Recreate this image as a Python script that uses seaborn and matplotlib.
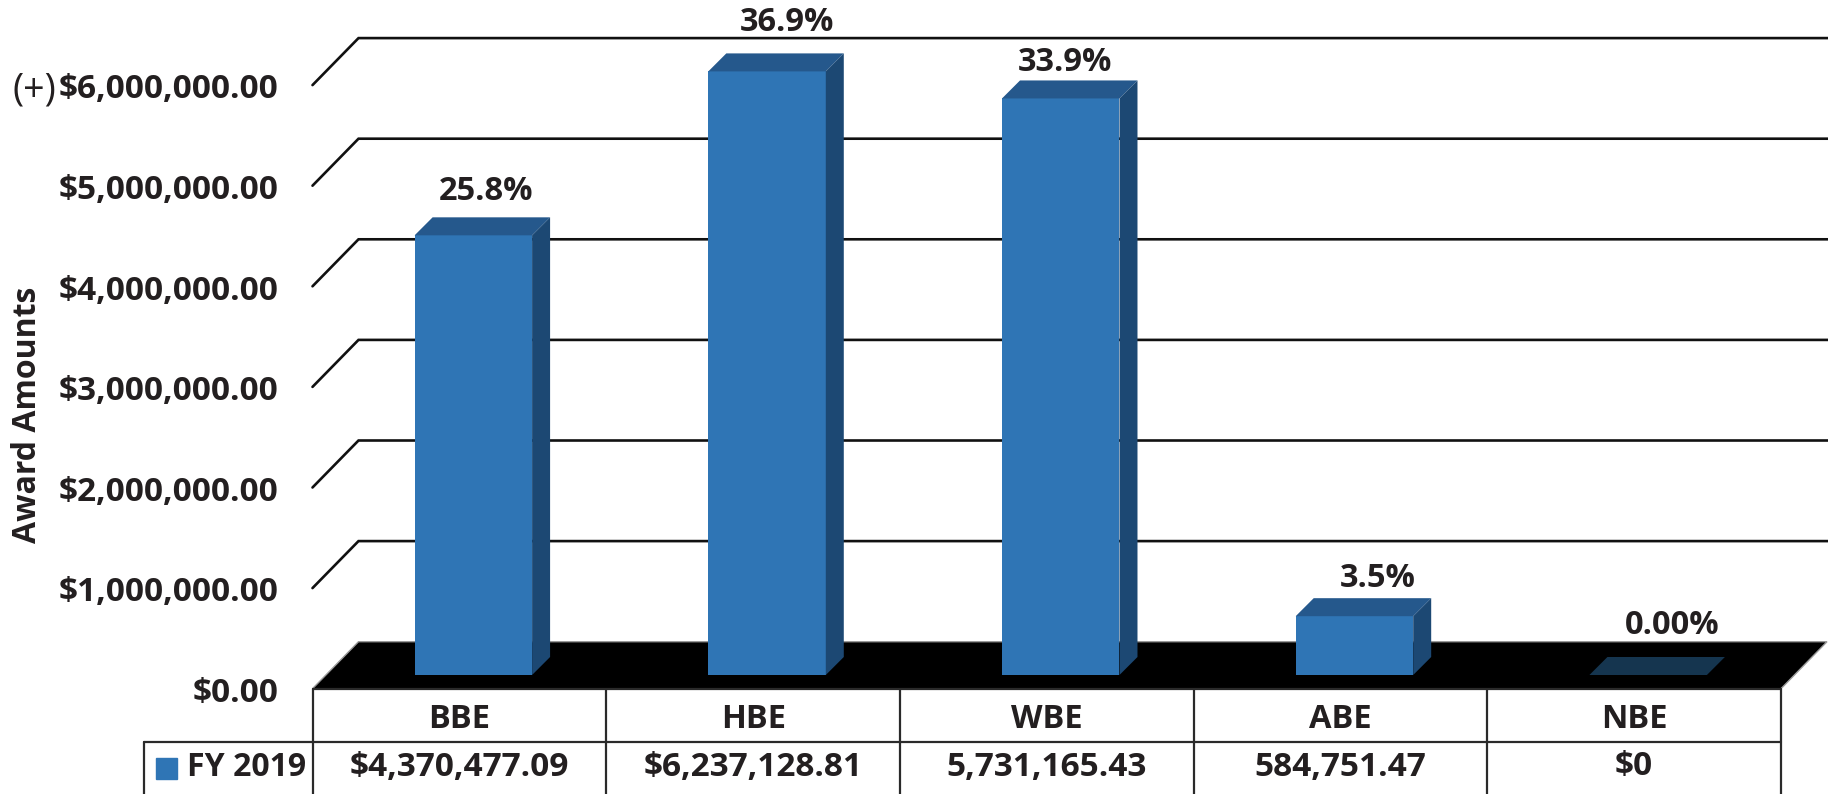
import numpy as np
import pandas as pd
import matplotlib
matplotlib.use("Agg")
import matplotlib.pyplot as plt
from matplotlib.lines import Line2D
from matplotlib.patches import Polygon, Rectangle
from matplotlib.transforms import Affine2D
import seaborn as sns

# data
categories = ["BBE", "HBE", "WBE", "ABE", "NBE"]
award_amounts = [4370477.09, 6237128.81, 5731165.43, 584751.47, 0]
pct_labels = ["25.8%", "36.9%", "33.9%", "3.5%", "0.00%"]
table_row = ["$4,370,477.09", "$6,237,128.81", "5,731,165.43", "584,751.47", "$0"]
series_name = "FY 2019"
y_ticks = [0, 1000000, 2000000, 3000000, 4000000, 5000000, 6000000]
y_tick_labels = ["$0.00", "$1,000,000.00", "$2,000,000.00", "$3,000,000.00",
                 "$4,000,000.00", "$5,000,000.00", "$6,000,000.00"]

W, H = 1828, 794
TXT = "#231f20"
FRONT = "#2f75b5"
TOP = "#25588c"
SIDE = "#1c4873"
FLAT = "#15354f"
FS = 24

sns.set_theme(style="white")
plt.rcParams["font.family"] = ["Open Sans", "DejaVu Sans"]

fig = plt.figure(figsize=(W / 100, H / 100), dpi=100)

# bar plane in pixels: x 326.5 -> 1795, y 675 -> 71.4
left, right, bottom, top = 326.5, 1795.0, 675.0, 71.4
ax = fig.add_axes([left / W, 1 - bottom / H, (right - left) / W, (bottom - top) / H])

df = pd.DataFrame({"group": categories, "amount": award_amounts})
sns.barplot(data=df, x="group", y="amount", color=FRONT, saturation=1, width=0.4,
            linewidth=0, ax=ax, zorder=4)
ax.set_xlim(-0.5, 4.5)
ax.set_ylim(0, 6000000)
ax.patch.set_alpha(0)
sns.despine(ax=ax, left=True, bottom=True, top=True, right=True)

# data units per pixel
ux = 5 / (right - left)
uy = 6000000 / (bottom - top)


def poly(points, color, z, edge="none"):
    ax.add_patch(Polygon(points, closed=True, facecolor=color, edgecolor=edge, lw=1,
                         clip_on=False, zorder=z))


# black floor
xa, xb = -0.5 - 14 * ux, 4.5 - 14 * ux
ya = -13.7 * uy
floor_dx, floor_dy = 46 * ux, 47 * uy
poly([(xa, ya), (xa + floor_dx, ya + floor_dy), (xb + floor_dx, ya + floor_dy), (xb, ya)],
     "black", 1, edge="#9a9a9a")

# gridlines with the slanted stub on the left
for t in y_ticks[1:]:
    y_front = t - 13.7 * uy
    y_back = y_front + floor_dy
    ax.plot([xa, xa + floor_dx, 4.5 + (W - right) * ux], [y_front, y_back, y_back],
            color="#111111", lw=1.9, clip_on=False, zorder=0, solid_joinstyle="miter")

# 3d faces of the bars
d = 18
for patch, val in zip(ax.patches[:len(categories)], award_amounts):
    x0 = patch.get_x()
    x1 = x0 + patch.get_width()
    h = min(val, 6000000)
    dx, dy = d * ux, d * uy
    if val == 0:
        poly([(x0, 0), (x1, 0), (x1 + dx, dy), (x0 + dx, dy)], FLAT, 5)
        continue
    poly([(x0, h), (x1, h), (x1 + dx, h + dy), (x0 + dx, h + dy)], TOP, 5)
    poly([(x1, 0), (x1 + dx, dy), (x1 + dx, h + dy), (x1, h)], SIDE, 5)

# percentage labels, nudged by hand from the bar centre
nudge_x = [13, 20, 4, 23, 24]
nudge_y = [44, 49, 36, 38, 50]
for i, (lab, val) in enumerate(zip(pct_labels, award_amounts)):
    h = min(val, 6000000)
    ax.text(i + nudge_x[i] * ux, h + nudge_y[i] * uy, lab, ha="center", va="center",
            fontsize=FS - 0.5, fontweight="bold", color=TXT, clip_on=False, zorder=6)

# real tick labels, moved onto the front plane of the floor
ax.set_yticks(y_ticks)
ax.set_yticklabels(y_tick_labels, fontsize=FS, fontweight="bold", color=TXT)
ax.set_xticks(range(len(categories)))
ax.set_xticklabels(categories, fontsize=FS - 0.5, fontweight="bold", color=TXT)
ax.tick_params(axis="both", length=0, pad=0)
ax.set_xlabel("")
ax.set_ylabel("")
for lab in ax.get_yticklabels():
    lab.set_transform(lab.get_transform() + Affine2D().translate(-48.5, -14.5))
for lab in ax.get_xticklabels():
    lab.set_verticalalignment("center")
    lab.set_transform(lab.get_transform() + Affine2D().translate(-13.8, -44))


def ftext(x, y, s, **kw):
    fig.text(x / W, 1 - y / H, s, ha=kw.pop("ha", "center"), va="center", color=TXT, **kw)


def fline(x0, y0, x1, y1):
    fig.add_artist(Line2D([x0 / W, x1 / W], [1 - y0 / H, 1 - y1 / H], color="#2a2a2a", lw=1.6))


ftext(28, 415, "Award Amounts", rotation=90, fontsize=23, fontweight="bold")
ftext(34, 90, "(+)", fontsize=27)

# data table under the chart
col_edges = [312.5, 606.2, 899.9, 1193.6, 1487.3, 1781]
for x in col_edges:
    fline(x, 689, x, 794)
fline(312.5, 689, 1781, 689)
fline(144, 741.5, 1781, 741.5)
fline(144, 741.5, 144, 794)
fig.add_artist(Rectangle((156 / W, 1 - 779 / H), 21 / W, 21 / H, color=FRONT,
                         transform=fig.transFigure))
ftext(187, 767, series_name, ha="left", fontsize=FS - 1, fontweight="bold")
for i, s in enumerate(table_row):
    ftext((col_edges[i] + col_edges[i + 1]) / 2, 767, s, fontsize=FS, fontweight="bold")

fig.savefig("out.png", dpi=100, facecolor="white")
